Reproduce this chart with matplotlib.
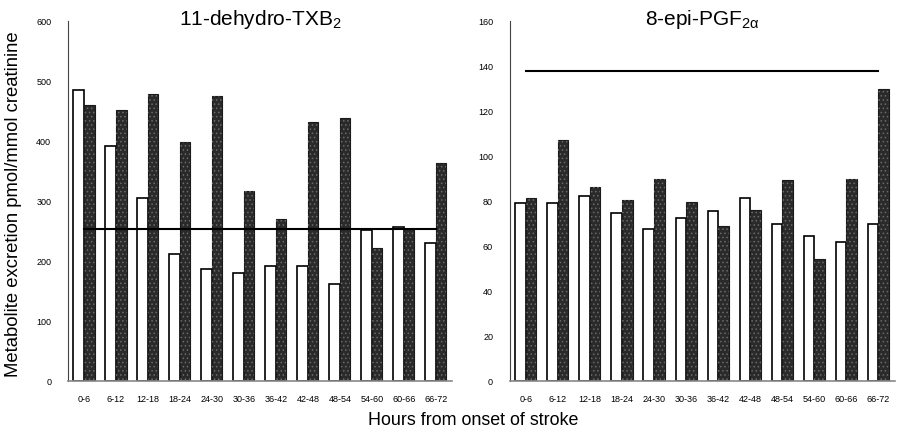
import numpy as np
import matplotlib
matplotlib.use("Agg")
import matplotlib.pyplot as plt

plt.rcParams["font.family"] = ["Liberation Sans", "DejaVu Sans"]
plt.rcParams["mathtext.fontset"] = "custom"
plt.rcParams["mathtext.rm"] = "Liberation Sans"
plt.rcParams["mathtext.it"] = "Liberation Sans:italic"
plt.rcParams["hatch.linewidth"] = 0.6

hours = ["0-6", "6-12", "12-18", "18-24", "24-30", "30-36",
         "36-42", "42-48", "48-54", "54-60", "60-66", "66-72"]

# 11-dehydro-TXB2 excretion (pmol/mmol creatinine)
txb_white = [485, 392, 305, 211, 186, 180, 192, 192, 162, 252, 256, 230]
txb_black = [461, 452, 478, 399, 476, 316, 270, 432, 439, 221, 253, 363]
txb_ref = 253

# 8-epi-PGF2alpha excretion (pmol/mmol creatinine)
pgf_white = [79.2, 79, 82.2, 74.5, 67.5, 72.6, 75.5, 81.5, 70, 64.4, 62, 70]
pgf_black = [81.2, 107, 86.4, 80.4, 89.8, 79.7, 68.9, 76, 89.2, 54.2, 89.8, 130]
pgf_ref = 138

fig = plt.figure(figsize=(8.99, 4.32), dpi=100)
ax1 = fig.add_axes([0.0756, 0.118, 0.427, 0.833])
ax2 = fig.add_axes([0.567, 0.118, 0.428, 0.833])

x = np.arange(len(hours))
w = 0.33


def draw(ax, white, black, ref, ymax, step, title):
    ax.bar(x - w / 2, white, w, color="white", edgecolor="black", linewidth=1.2)
    ax.bar(x + w / 2, black, w, color="#2a2a2a", edgecolor="#1a1a1a", linewidth=0.8)
    # speckled fill on the dark bars
    ax.bar(x + w / 2, black, w, fill=False, edgecolor="#6a6a6a",
           hatch="....", linewidth=0)
    ax.plot(x, [ref] * len(x), color="black", linewidth=1.5)
    ax.set_xlim(-0.5, len(x) - 0.5)
    ax.set_ylim(0, ymax)
    ax.set_yticks(np.arange(0, ymax + 1, step))
    ax.set_xticks(x)
    ax.set_xticklabels(hours)
    ax.tick_params(length=0, labelsize=6.5, pad=10)
    ax.tick_params(axis="y", pad=12)
    for s in ["top", "right"]:
        ax.spines[s].set_visible(False)
    ax.spines["left"].set_color("#444444")
    ax.spines["left"].set_linewidth(0.8)
    ax.spines["bottom"].set_color("#888888")
    ax.spines["bottom"].set_linewidth(1.2)
    ax.set_title(title, fontsize=15, y=0.989, pad=0)


draw(ax1, txb_white, txb_black, txb_ref, 600, 100, r"11-dehydro-TXB$_\mathrm{2}$")
draw(ax2, pgf_white, pgf_black, pgf_ref, 160, 20, r"8-epi-PGF$_\mathrm{2\alpha}$")

fig.text(0.015, 0.528, "Metabolite excretion pmol/mmol creatinine",
         rotation=90, ha="center", va="center", fontsize=13.3)
fig.text(0.526, 0.027, "Hours from onset of stroke",
         ha="center", va="center", fontsize=12.9)

fig.savefig("out.png", dpi=100)
